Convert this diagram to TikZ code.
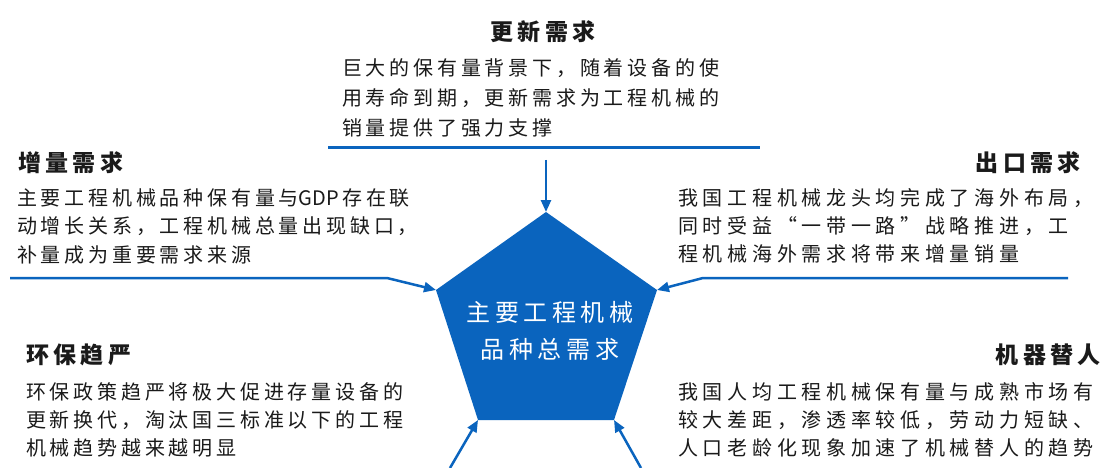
\documentclass[tikz,border=0pt]{standalone}
\usepackage{fontspec}
\setmainfont{Noto Sans CJK SC}[LetterSpace=19]
\newfontfamily\latinplain{Noto Sans CJK SC}
\usetikzlibrary{arrows.meta}
\definecolor{mblue}{HTML}{0A64BE}
\definecolor{ink}{HTML}{1A1A1A}
\begin{document}
\begin{tikzpicture}[x=1pt,y=-1pt,
  title/.style={inner sep=0pt,text=ink,font=\fontsize{23}{28}\selectfont\bfseries},
  body/.style={inner sep=0pt,text=ink,align=left,font=\fontsize{20}{28.5}\selectfont},
  widebody/.style={body,font=\fontsize{20}{28}\selectfont\addfontfeatures{LetterSpace=23.5}},
  sepline/.style={draw=mblue,line width=3pt},
  feed/.style={draw=mblue,line width=2.5pt,-{Triangle[length=12pt,width=10pt]}}]
\useasboundingbox (0,0) rectangle (1103,468);
\fill[white] (0,0) rectangle (1103,468);
% pentagon
\coordinate (pT) at (546,212);
\coordinate (pUL) at (436,290);
\coordinate (pUR) at (657,290);
\coordinate (pLL) at (478,420);
\coordinate (pLR) at (614,420);
\fill[mblue] (pT) -- (pUR) -- (pLR) -- (pLL) -- (pUL) -- cycle;
\node[inner sep=0pt,text=white,align=center,font=\fontsize{24}{37}\selectfont] (core) at (550,331) {主要工程机械\\品种总需求};
% top
\node[title,anchor=center] (tTitle) at (543,32) {更新需求};
\node[body,anchor=west,font=\fontsize{20}{30}\selectfont] (tBody) at (342,98) {巨大的保有量背景下，随着设备的使\\用寿命到期，更新需求为工程机械的\\销量提供了强力支撑};
\coordinate (tL) at (328,148);
\coordinate (tR) at (760,148);
\draw[sepline] (tL) -- (tR);
\coordinate (tA) at (546,160);
\draw[feed] (tA) -- (pT);
% left
\node[title,anchor=west] (lTitle) at (18,163) {增量需求};
\node[body,anchor=west] (lBody) at (17,226) {主要工程机械品种保有量与{\latinplain GDP}\hspace{3pt}存在联\\动增长关系，工程机械总量出现缺口，\\补量成为重要需求来源};
\coordinate (lS) at (10,278);
\coordinate (lB) at (387,278);
\draw[feed] (lS) -- (lB) -- (pUL);
% right
\node[title,anchor=east] (rTitle) at (1081,163) {出口需求};
\node[widebody,anchor=west] (rBody) at (678,226) {我国工程机械龙头均完成了海外布局，\\同时受益“一带一路”战略推进，工\\程机械海外需求将带来增量销量};
\coordinate (rS) at (1068,278);
\coordinate (rB) at (703,278);
\draw[feed] (rS) -- (rB) -- (pUR);
% bottom left
\node[title,anchor=west] (blTitle) at (26,355) {环保趋严};
\node[body,anchor=west,font=\fontsize{20}{28}\selectfont] (blBody) at (26,420) {环保政策趋严将极大促进存量设备的\\更新换代，淘汰国三标准以下的工程\\机械趋势越来越明显};
\coordinate (blS) at (450,468);
\draw[feed] (blS) -- (pLL);
% bottom right
\node[title,anchor=east] (brTitle) at (1101,355) {机器替人};
\node[widebody,anchor=west] (brBody) at (678,420) {我国人均工程机械保有量与成熟市场有\\较大差距，渗透率较低，劳动力短缺、\\人口老龄化现象加速了机械替人的趋势};
\coordinate (brS) at (641,468);
\draw[feed] (brS) -- (pLR);
\end{tikzpicture}
\end{document}
